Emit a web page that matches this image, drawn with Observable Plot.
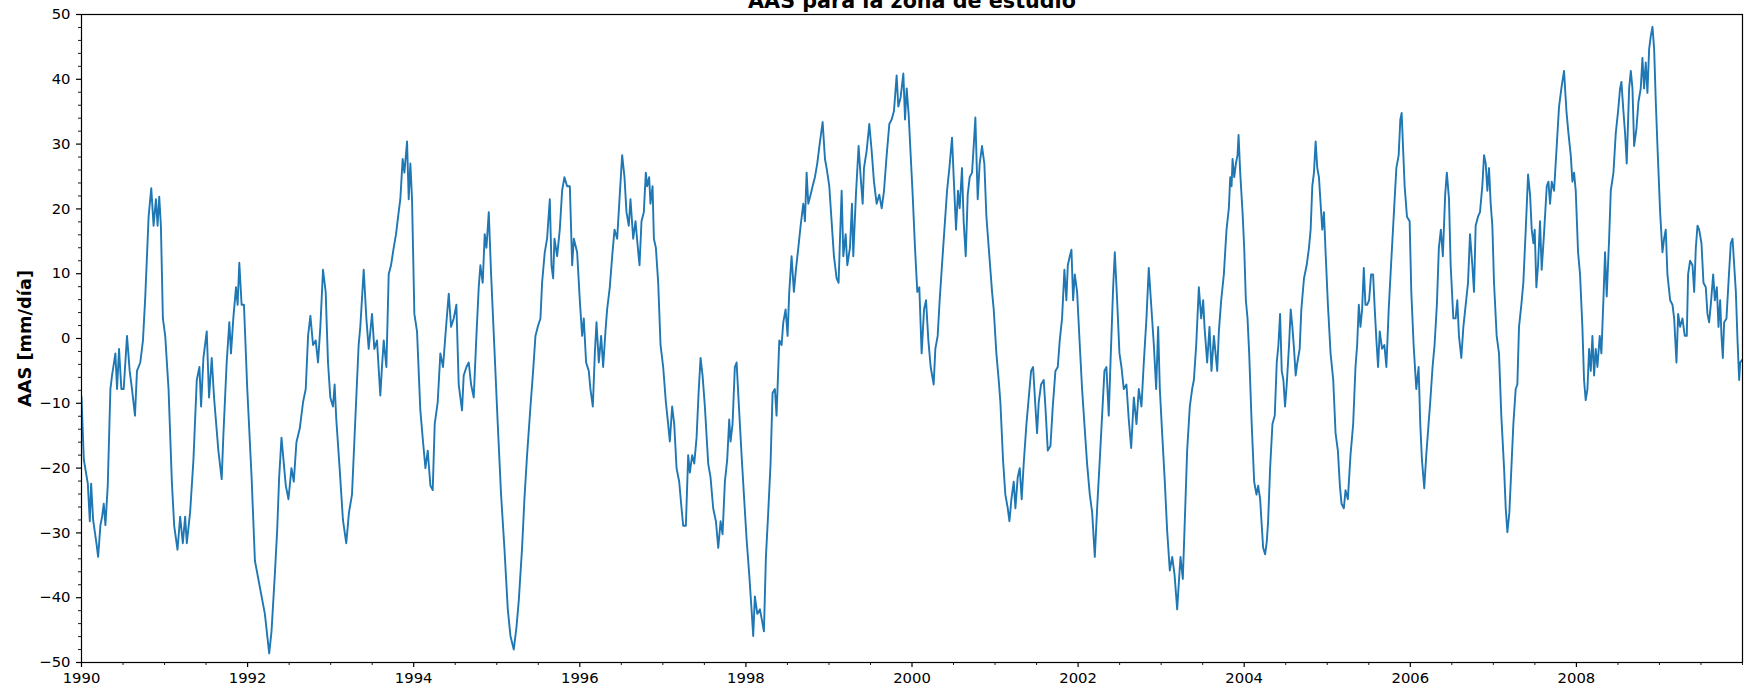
<!DOCTYPE html>
<html><head><meta charset="utf-8">
<script src="https://cdn.jsdelivr.net/npm/d3@7"></script>
<script src="https://cdn.jsdelivr.net/npm/@observablehq/plot@0.6"></script>
<style>body{margin:0;background:#fff;} #chart{width:1747px;height:692px;overflow:hidden;}</style>
</head><body><div id="chart"></div>
<script>
const title = "AAS para la zona de estudio";
const yLabel = "AAS [mm/día]";
const xMajorTicks = [1990,1992,1994,1996,1998,2000,2002,2004,2006,2008];
const yMajorTicks = [-50,-40,-30,-20,-10,0,10,20,30,40,50];

// [decimal year, AAS mm/día]
const seg1990 = [[1990.000,-9],[1990.028,-18.7],[1990.076,-22.4],[1990.100,-28.2],[1990.116,-22.4],[1990.140,-28],[1990.180,-31.6],[1990.200,-33.7],[1990.228,-28.8],[1990.248,-27.5],[1990.268,-25.5],[1990.288,-28.8],[1990.316,-22.7],[1990.348,-7.8],[1990.368,-5.7],[1990.408,-2.3],[1990.428,-7.8],[1990.452,-1.6],[1990.480,-7.8],[1990.508,-7.8],[1990.548,0.4],[1990.580,-5],[1990.608,-7.8],[1990.644,-11.9],[1990.668,-5],[1990.708,-3.7],[1990.740,-0.3],[1990.768,6.5],[1990.808,18.8],[1990.840,23.2],[1990.868,17.4],[1990.896,21.5],[1990.916,17.4],[1990.936,21.9],[1990.956,17.4],[1990.980,3.1],[1991.008,0.4],[1991.048,-7.8],[1991.088,-22.1],[1991.116,-28.9],[1991.156,-32.6],[1991.188,-27.5],[1991.220,-31.6],[1991.248,-27.5],[1991.268,-31.6],[1991.308,-26.8],[1991.348,-18.7],[1991.388,-6.4],[1991.420,-4.4],[1991.440,-10.5],[1991.468,-3],[1991.508,1.1],[1991.536,-9.1],[1991.568,-3],[1991.596,-9.1],[1991.648,-17.3],[1991.688,-21.7],[1991.708,-15],[1991.748,-3.7],[1991.780,2.5],[1991.800,-2.3],[1991.828,3.1],[1991.860,7.9],[1991.880,5.2],[1991.900,11.7],[1991.928,5.2],[1991.956,5.2],[1991.996,-7.8],[1992.048,-21.4],[1992.088,-34.3],[1992.148,-38.4],[1992.208,-42.5],[1992.260,-48.6],[1992.288,-45.2],[1992.328,-36.4],[1992.356,-29.6],[1992.380,-21.4],[1992.408,-15.3],[1992.436,-19.3],[1992.460,-22.7],[1992.492,-24.8],[1992.528,-20],[1992.556,-22.1],[1992.588,-16],[1992.628,-13.9],[1992.668,-9.8],[1992.700,-7.8],[1992.728,0.4],[1992.756,3.5],[1992.788,-1],[1992.820,-0.3],[1992.848,-3.7],[1992.876,1.8],[1992.908,10.6],[1992.940,7.2],[1992.968,-3.7],[1992.996,-9.1],[1993.028,-10.5],[1993.048,-7.1],[1993.068,-12.5],[1993.108,-20],[1993.148,-28],[1993.188,-31.6],[1993.220,-26.9]];

const seg1993 = [[1993.257,-24.1],[1993.297,-12.5],[1993.337,-1],[1993.357,1.8],[1993.398,10.6],[1993.430,3.1],[1993.458,-1.6],[1993.498,3.8],[1993.526,-1.6],[1993.558,-0.3],[1993.598,-8.8],[1993.618,-4.4],[1993.639,-0.3],[1993.671,-4.4],[1993.699,9.9],[1993.727,11.3],[1993.759,14],[1993.787,16.1],[1993.819,19.5],[1993.839,21.5],[1993.867,27.7],[1993.888,25.6],[1993.920,30.4],[1993.940,21.5],[1993.960,27],[1993.980,21.5],[1994.008,3.8],[1994.040,1.1],[1994.080,-11.1],[1994.112,-15.9],[1994.141,-20],[1994.169,-17.3],[1994.201,-22.7],[1994.229,-23.4],[1994.253,-13.2],[1994.289,-9.8],[1994.321,-2.3],[1994.353,-4.4],[1994.394,2.5],[1994.422,6.9],[1994.450,1.8],[1994.482,3.1],[1994.514,5.2],[1994.542,-7.1],[1994.582,-11.1],[1994.602,-5.7],[1994.635,-4.4],[1994.663,-3.7],[1994.691,-7.1],[1994.723,-9.1],[1994.755,0.4],[1994.783,7.9],[1994.803,11.3],[1994.831,8.6],[1994.855,16.1],[1994.876,14],[1994.904,19.5],[1994.932,9.9],[1994.972,-1.6],[1995.012,-13.2],[1995.052,-24.1],[1995.092,-32.3],[1995.133,-41.8],[1995.165,-45.9],[1995.205,-48],[1995.237,-44.6],[1995.265,-40.5],[1995.305,-32.3],[1995.333,-24.8],[1995.365,-18],[1995.406,-10.5],[1995.438,-5],[1995.466,0.4],[1995.494,1.8],[1995.526,3.1],[1995.546,8.6],[1995.578,13.3],[1995.606,15.4],[1995.639,21.5],[1995.659,11.3],[1995.679,9.3],[1995.695,15.4],[1995.727,12.7],[1995.759,16.8],[1995.787,22.8],[1995.815,24.9],[1995.847,23.5],[1995.880,23.5],[1995.908,11.3],[1995.928,15.4],[1995.968,13.3],[1996.000,5.9],[1996.028,0.4],[1996.048,3.1],[1996.076,-3.7],[1996.108,-5],[1996.128,-7.8],[1996.157,-10.5],[1996.181,-2.3],[1996.201,2.5],[1996.229,-3.7],[1996.257,0.4],[1996.281,-4.4],[1996.309,1.1],[1996.329,4.5],[1996.361,7.9],[1996.390,12.7],[1996.418,16.8],[1996.450,15.4],[1996.478,21.5],[1996.510,28.3],[1996.538,24.9],[1996.562,19.5],[1996.590,17.4],[1996.610,21.5],[1996.643,15.4],[1996.671,18.1],[1996.699,14],[1996.719,11.3]];

const seg1996 = [[1996.743,18.1],[1996.771,19.5],[1996.795,25.6],[1996.811,23.5],[1996.835,24.9],[1996.851,20.8],[1996.876,23.5],[1996.892,15.4],[1996.916,14],[1996.944,8.6],[1996.972,-1],[1997.004,-4.4],[1997.036,-9.8],[1997.064,-13.2],[1997.084,-15.9],[1997.112,-10.5],[1997.137,-13.2],[1997.165,-20],[1997.197,-22.1],[1997.225,-26.2],[1997.245,-28.9],[1997.277,-28.9],[1997.305,-18],[1997.325,-20.7],[1997.353,-18],[1997.378,-19.3],[1997.406,-15.3],[1997.430,-8.5],[1997.454,-3],[1997.478,-5.7],[1997.506,-10.5],[1997.546,-19.3],[1997.574,-21.4],[1997.606,-26.2],[1997.639,-28.2],[1997.667,-32.3],[1997.695,-28.2],[1997.719,-30.2],[1997.747,-22.1],[1997.775,-18.7],[1997.799,-12.5],[1997.815,-15.9],[1997.839,-13.2],[1997.867,-4.4],[1997.888,-3.7],[1997.916,-10.5],[1997.948,-18],[1997.976,-24.1],[1998.008,-30.9],[1998.040,-36.4],[1998.068,-41.8],[1998.088,-45.9],[1998.108,-39.8],[1998.137,-42.5],[1998.169,-41.8],[1998.189,-43.2],[1998.217,-45.2],[1998.241,-33.7],[1998.269,-26.8],[1998.297,-19.3],[1998.321,-8.4],[1998.349,-7.8],[1998.369,-11.9],[1998.402,-0.3],[1998.430,-1],[1998.450,2.5],[1998.478,4.5],[1998.502,0.4],[1998.522,7.2],[1998.550,12.7],[1998.578,7.2],[1998.602,10.6],[1998.631,14],[1998.659,17.4],[1998.691,20.8],[1998.711,18.1],[1998.731,25.6],[1998.751,20.8],[1998.779,22.2],[1998.803,23.5],[1998.831,24.9],[1998.859,27],[1998.892,30.4],[1998.924,33.4],[1998.952,27.7],[1998.972,26.3],[1999.004,23.5],[1999.032,18.1],[1999.060,12.7],[1999.092,9.3],[1999.116,8.6],[1999.133,15.4],[1999.153,22.8],[1999.173,12.7],[1999.201,16.1],[1999.221,11.3],[1999.253,14],[1999.277,20.8],[1999.293,12.7],[1999.325,22.2],[1999.357,29.7],[1999.382,24.9],[1999.406,20.8],[1999.422,26.3],[1999.454,29],[1999.486,33.1],[1999.514,29],[1999.542,24.2],[1999.574,20.8],[1999.606,22.2],[1999.635,20.1],[1999.663,22.8],[1999.695,28.3],[1999.727,33.1],[1999.755,33.8],[1999.783,35.1],[1999.815,40.6],[1999.835,35.8],[1999.863,37.2],[1999.896,40.9],[1999.916,33.8],[1999.936,38.6],[1999.960,34.5],[1999.984,28.3],[2000.008,22.2],[2000.036,14],[2000.064,7.2],[2000.088,7.9],[2000.116,-2.3],[2000.145,4.5],[2000.169,5.9],[2000.197,-0.3],[2000.225,-4.4]];

const seg2000 = [[2000.261,-7.1],[2000.281,-1.6],[2000.309,0.4],[2000.333,5.9],[2000.361,11.3],[2000.390,16.8],[2000.422,22.8],[2000.450,26.3],[2000.482,31],[2000.502,24.9],[2000.530,16.8],[2000.554,22.8],[2000.574,20.1],[2000.602,26.3],[2000.622,18.1],[2000.647,12.7],[2000.671,22.2],[2000.695,24.9],[2000.723,25.6],[2000.743,29.7],[2000.763,34.1],[2000.791,21.5],[2000.815,27],[2000.843,29.7],[2000.871,27],[2000.896,18.8],[2000.924,14],[2000.964,7.2],[2000.984,4.5],[2001.016,-2.3],[2001.044,-6.4],[2001.064,-9.8],[2001.096,-18.7],[2001.124,-24.1],[2001.153,-26.2],[2001.173,-28.2],[2001.197,-24.8],[2001.225,-22.1],[2001.245,-26.2],[2001.273,-21.4],[2001.297,-20],[2001.321,-24.8],[2001.345,-19.3],[2001.378,-13.2],[2001.406,-9.1],[2001.434,-5],[2001.458,-4.4],[2001.486,-10.5],[2001.506,-14.6],[2001.526,-9.8],[2001.554,-7.1],[2001.586,-6.4],[2001.606,-10.5],[2001.635,-17.3],[2001.667,-16.6],[2001.695,-10.5],[2001.727,-5],[2001.755,-4.4],[2001.779,-0.3],[2001.807,3.1],[2001.835,10.6],[2001.859,5.9],[2001.876,11.3],[2001.900,12.7],[2001.920,13.7],[2001.940,5.9],[2001.960,9.9],[2001.988,7.2],[2002.020,-1],[2002.048,-7.8],[2002.076,-13.2],[2002.108,-19.3],[2002.141,-24.1],[2002.169,-26.8],[2002.201,-33.7],[2002.229,-26.2],[2002.261,-18.7],[2002.289,-11.9],[2002.317,-5],[2002.341,-4.4],[2002.369,-11.9],[2002.390,-3.7],[2002.422,7.9],[2002.442,13.3],[2002.470,5.9],[2002.498,-2.3],[2002.522,-4.4],[2002.550,-7.8],[2002.582,-7.1],[2002.610,-12.5],[2002.639,-16.9],[2002.671,-9.1],[2002.703,-13.2],[2002.731,-7.8],[2002.763,-10.5],[2002.791,-3.7],[2002.823,3.1],[2002.851,10.9],[2002.880,5.2],[2002.912,-1],[2002.940,-7.8],[2002.964,1.8],[2002.984,-7.8],[2003.012,-14.6],[2003.044,-22.1],[2003.072,-29.6],[2003.104,-35.8],[2003.133,-33.7],[2003.161,-36.4],[2003.193,-41.8],[2003.213,-37.7],[2003.233,-33.7],[2003.261,-37.1],[2003.281,-29.6],[2003.313,-17.3],[2003.345,-10.5],[2003.373,-7.8],[2003.394,-6.4],[2003.422,-1],[2003.454,7.9],[2003.482,3.1],[2003.506,5.9],[2003.522,1.8],[2003.554,-3.7],[2003.582,1.8],[2003.606,-5],[2003.635,0.4],[2003.655,-2.3],[2003.675,-5],[2003.695,1.1],[2003.723,5.9],[2003.755,9.9],[2003.787,16.8],[2003.815,20.1]];

const seg2003 = [[2003.832,24.9],[2003.848,23.5],[2003.860,27.7],[2003.880,24.9],[2003.900,27],[2003.920,28.3],[2003.932,31.4],[2003.952,25.6],[2003.980,19.5],[2004.000,14],[2004.020,5.9],[2004.040,3.1],[2004.060,-2.3],[2004.088,-12.5],[2004.120,-22.1],[2004.148,-24.1],[2004.168,-22.7],[2004.192,-24.8],[2004.208,-28.2],[2004.228,-32.3],[2004.252,-33.3],[2004.272,-31.3],[2004.288,-28.2],[2004.312,-20],[2004.340,-13.2],[2004.368,-11.9],[2004.392,-3.7],[2004.412,-1],[2004.432,3.8],[2004.452,-5],[2004.472,-6.4],[2004.492,-10.5],[2004.512,-7.1],[2004.540,-1],[2004.560,4.5],[2004.580,1.8],[2004.600,-1.6],[2004.620,-5.7],[2004.640,-3.7],[2004.668,-1.6],[2004.688,4.5],[2004.720,9.3],[2004.752,11.3],[2004.780,14],[2004.800,16.8],[2004.820,23.5],[2004.840,25.6],[2004.860,30.4],[2004.880,26.3],[2004.900,24.9],[2004.920,20.8],[2004.940,16.8],[2004.960,19.5],[2004.980,13.3],[2005.008,5.2],[2005.040,-2.3],[2005.072,-6.4],[2005.100,-14.6],[2005.128,-17.3],[2005.152,-22.7],[2005.172,-25.5],[2005.200,-26.2],[2005.220,-23.4],[2005.248,-24.8],[2005.280,-18],[2005.312,-13.2],[2005.340,-4.4],[2005.360,-1],[2005.380,5.2],[2005.400,1.8],[2005.420,4.5],[2005.440,10.9],[2005.460,5.2],[2005.480,5.2],[2005.504,5.9],[2005.528,9.9],[2005.552,9.9],[2005.572,4.5],[2005.592,-0.3],[2005.612,-4.4],[2005.632,1.1],[2005.660,-1.6],[2005.688,-1],[2005.712,-4.4],[2005.740,4.5],[2005.768,11.3],[2005.800,18.8],[2005.832,26.3],[2005.860,28.3],[2005.880,33.8],[2005.896,34.8],[2005.912,29.7],[2005.932,23.5],[2005.960,18.8],[2005.992,18.1],[2006.012,7.2],[2006.040,-1],[2006.072,-7.8],[2006.100,-4.4],[2006.120,-13.2],[2006.140,-18.7],[2006.168,-23.1],[2006.192,-18],[2006.220,-13.2],[2006.240,-9.8],[2006.268,-4.4],[2006.292,-1],[2006.320,5.2],[2006.344,14],[2006.368,16.8],[2006.392,12.7],[2006.420,22.2],[2006.440,25.6]];

const seg2006 = [[2006.466,21.5],[2006.486,11.3],[2006.518,3.1],[2006.546,3.1],[2006.566,5.9],[2006.586,0.4],[2006.614,-3],[2006.639,1.8],[2006.667,5.2],[2006.695,8.6],[2006.719,16.1],[2006.747,11.3],[2006.767,7.2],[2006.787,17.4],[2006.815,18.8],[2006.839,19.5],[2006.867,23.5],[2006.888,28.3],[2006.908,27],[2006.928,22.8],[2006.948,26.3],[2006.968,20.8],[2006.988,17.4],[2007.008,8.6],[2007.040,0.4],[2007.068,-2.3],[2007.096,-11.9],[2007.129,-20],[2007.149,-26.2],[2007.169,-29.9],[2007.193,-26.8],[2007.217,-20],[2007.241,-13.2],[2007.269,-7.8],[2007.289,-7.1],[2007.309,1.8],[2007.337,5.2],[2007.361,8.6],[2007.390,16.8],[2007.418,25.3],[2007.442,22.2],[2007.462,16.8],[2007.482,14.7],[2007.498,16.8],[2007.518,7.9],[2007.538,11.3],[2007.562,18.1],[2007.582,10.6],[2007.610,16.1],[2007.643,23.5],[2007.663,24.2],[2007.683,20.8],[2007.703,24.2],[2007.731,22.8],[2007.763,29.7],[2007.791,35.8],[2007.819,38.6],[2007.851,41.3],[2007.880,35.1],[2007.904,31.7],[2007.932,28.3],[2007.952,24.2],[2007.972,25.6],[2007.992,22.8],[2008.020,13.3],[2008.044,9.9],[2008.072,1.8],[2008.092,-6.4],[2008.112,-9.5],[2008.133,-7.8],[2008.153,-1.6],[2008.173,-5],[2008.193,0.4],[2008.213,-5.7],[2008.233,-1.6],[2008.253,-4.4],[2008.281,0.4],[2008.301,-2.3],[2008.325,5.9],[2008.345,13.3],[2008.365,6.5],[2008.394,15.4],[2008.414,22.8],[2008.446,25.6],[2008.474,31.7],[2008.502,35.1],[2008.526,38.6],[2008.542,39.6],[2008.566,35.1],[2008.586,31.7],[2008.606,27],[2008.635,38.6],[2008.655,41.3],[2008.675,38.6],[2008.695,29.7],[2008.723,32.4],[2008.747,36.5],[2008.775,38.6],[2008.795,43.3],[2008.815,38.6],[2008.835,42.6],[2008.855,37.9],[2008.876,44.7],[2008.896,46.7],[2008.916,48.1],[2008.936,44.7],[2008.956,36.5],[2008.976,29.7],[2009.008,19.5],[2009.036,13.3],[2009.056,15.4],[2009.076,16.8],[2009.096,9.9],[2009.129,5.9],[2009.157,5.2],[2009.177,3.1],[2009.205,-3.7],[2009.225,3.8],[2009.249,1.8],[2009.277,3.1],[2009.305,0.4],[2009.329,0.4],[2009.345,9.9],[2009.369,12],[2009.398,11.3],[2009.418,7.2],[2009.438,14],[2009.458,17.4],[2009.478,16.8],[2009.506,14.7],[2009.530,8.6],[2009.558,7.9],[2009.578,3.8],[2009.598,2.5],[2009.618,5.2],[2009.647,9.9],[2009.667,5.9],[2009.691,7.9],[2009.711,1.8],[2009.731,5.9],[2009.747,0.4],[2009.763,-3],[2009.779,2.5],[2009.807,3.1],[2009.831,8.6],[2009.859,14.7],[2009.880,15.4],[2009.900,11.3],[2009.920,7.2],[2009.940,-0.3],[2009.960,-6.4],[2009.972,-3.7],[2009.996,-3.3]];

const rows = [...seg1990, ...seg1993, ...seg1996, ...seg2000, ...seg2003, ...seg2006]
  .map(([year, aas]) => ({year, aas}));

const xMinorTicks = d3.range(1990.5, 2010.01, 0.5).filter(v => !xMajorTicks.includes(v));
const yMinorTicks = d3.range(-48, 50, 2).filter(v => v % 10 !== 0);

const chart = Plot.plot({
  width: 1747, height: 692,
  marginTop: 14, marginBottom: 30, marginLeft: 81, marginRight: 5,
  style: {fontFamily: "DejaVu Sans", fontSize: "14.8px", color: "black", background: "white"},
  x: {type: "linear", domain: [1990, 2010], label: null},
  y: {domain: [-50, 50], label: null},
  marks: [
    Plot.line(rows, {x: "year", y: "aas", stroke: "#1f77b4", strokeWidth: 1.9, clip: true}),
    Plot.frame({stroke: "black", strokeWidth: 1.2}),
    Plot.axisX(xMinorTicks, {tickSize: 3, strokeWidth: 0.9, tickFormat: () => "", label: null}),
    Plot.axisY(yMinorTicks, {tickSize: 3, strokeWidth: 0.9, tickFormat: () => "", label: null}),
    Plot.axisX(xMajorTicks, {tickSize: 5, tickPadding: 5, strokeWidth: 1.2, tickFormat: d => String(d), label: null, fontSize: 14.8}),
    Plot.axisY(yMajorTicks, {tickSize: 5, tickPadding: 6, strokeWidth: 1.2, tickFormat: d3.format("d"), label: null, fontSize: 14.8}),
    Plot.text([title], {text: d => d, frameAnchor: "top", dy: -7, lineAnchor: "bottom", textAnchor: "middle", fontSize: 20.7, fontWeight: "bold", fill: "black"}),
    Plot.text([yLabel], {text: d => d, frameAnchor: "left", dx: -56, rotate: -90, textAnchor: "middle", lineAnchor: "middle", fontSize: 17.8, fontWeight: "bold", fill: "black"})
  ]
});
document.getElementById("chart").appendChild(chart);
</script>
</body></html>
